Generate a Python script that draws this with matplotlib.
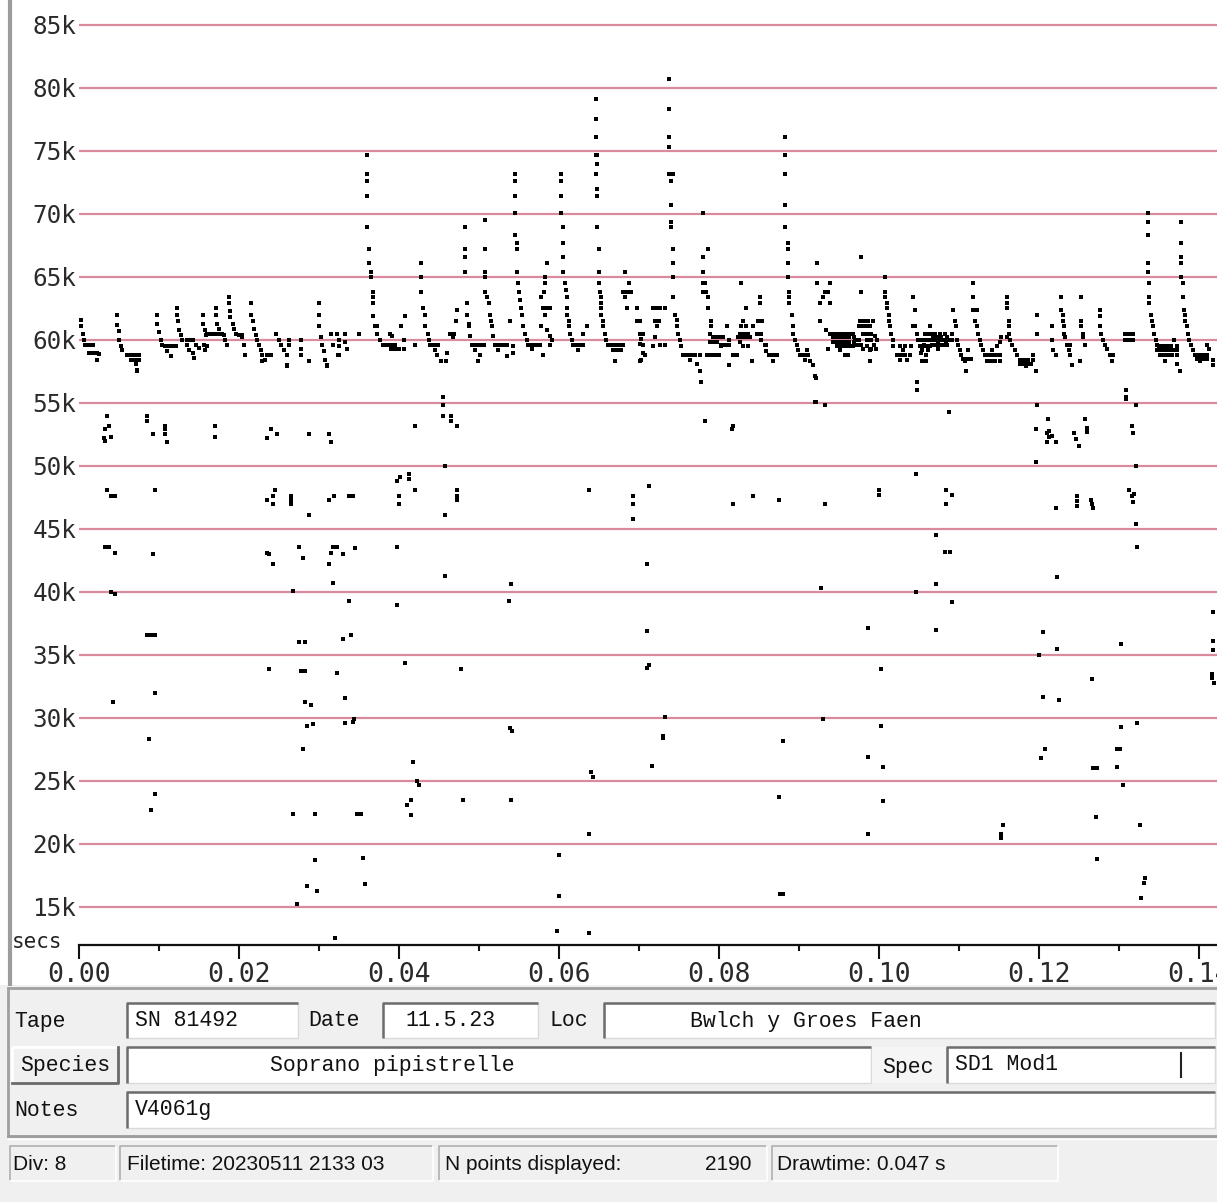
import numpy as np
import matplotlib
matplotlib.use('Agg')
import matplotlib.pyplot as plt
from matplotlib.patches import Rectangle

# call points: (time ms, frequency kHz)
band_pts = [
    (0.2, 61.6), (0.3, 61.1), (0.5, 60.5), (0.6, 60.0), (0.8, 59.6), (1.3, 59.6), (1.8, 59.6), (1.3, 59.0), (1.8, 59.0), (2.3, 59.0), (2.5, 58.9), (2.3, 58.4),
    (4.8, 62.0), (4.8, 61.2), (5.0, 60.7), (5.0, 60.0), (5.2, 59.5), (5.4, 59.2), (6.0, 58.8), (6.5, 58.8), (7.0, 58.8), (7.5, 58.8), (6.5, 58.4), (7.0, 58.4), (7.5, 58.4), (7.1, 58.1), (7.3, 57.5),
    (9.7, 62.0), (9.8, 61.3), (10.0, 60.6), (10.2, 60.0), (10.4, 59.6), (10.8, 59.5), (11.3, 59.5), (11.8, 59.5), (12.1, 59.5), (11.0, 59.1), (11.5, 58.7),
    (12.3, 62.5), (12.3, 62.0), (12.4, 61.5), (12.5, 60.8), (12.7, 60.4), (12.9, 60.0), (13.5, 60.0), (14.0, 60.0), (14.3, 60.0), (13.5, 59.6), (13.8, 59.2), (14.2, 59.0), (14.4, 58.6), (14.6, 59.6), (15.0, 59.4), (15.6, 59.6), (16.0, 59.5), (15.8, 59.2),
    (15.5, 62.0), (15.5, 61.3), (15.8, 60.8), (15.9, 60.4), (16.0, 60.5), (16.5, 60.5), (17.0, 60.5), (17.5, 60.5), (17.9, 60.5),
    (17.1, 62.5), (17.1, 62.0), (17.3, 61.3), (17.5, 60.9), (18.1, 60.4), (18.3, 60.0), (18.5, 59.6),
    (18.7, 63.4), (18.7, 62.9), (18.9, 62.3), (18.9, 61.8), (19.2, 61.3), (19.4, 60.9), (19.6, 60.5), (20.0, 60.4), (20.4, 60.4), (20.4, 60.2), (20.6, 59.6), (20.8, 58.8),
    (21.5, 62.9), (21.5, 62.0), (21.7, 61.5), (21.9, 60.9), (22.1, 60.4), (22.3, 60.0), (22.5, 59.6), (22.7, 59.2), (22.9, 58.8), (23.3, 58.4), (22.9, 58.3), (23.5, 58.8), (24.0, 58.8),
    (24.6, 60.5), (25.0, 60.0), (25.2, 59.6), (25.6, 59.2), (26.0, 58.8), (26.0, 57.9), (26.3, 60.0), (26.3, 59.6),
    (27.7, 60.0), (27.7, 59.3), (27.7, 58.8), (28.7, 58.3),
    (30.0, 62.9), (30.0, 62.0), (30.0, 61.1), (30.2, 60.2), (30.4, 59.6), (30.6, 59.1), (30.8, 58.4), (31.0, 57.9),
    (31.5, 60.5), (31.7, 59.6), (32.3, 60.5), (32.5, 60.0), (32.5, 59.5), (32.5, 58.8), (33.3, 60.5), (33.3, 59.8), (33.5, 59.3), (35.0, 60.5),
    (36.0, 74.7), (36.0, 73.2), (36.0, 72.6), (36.0, 71.4), (36.0, 69.0), (36.3, 67.2), (36.3, 66.1), (36.5, 65.4), (36.5, 65.0), (36.7, 63.8), (36.7, 63.4), (36.8, 62.9), (36.8, 61.9), (37.0, 61.1), (37.3, 61.1), (37.2, 60.5), (37.6, 60.0),
    (38.0, 59.6), (38.5, 59.6), (39.0, 59.6), (39.5, 59.6), (39.0, 59.3), (39.5, 59.3), (40.0, 59.3), (38.9, 60.5), (39.1, 60.3), (40.3, 61.1), (40.6, 60.0), (40.6, 59.3), (40.8, 61.9), (42.0, 59.6),
    (42.8, 66.1), (42.8, 65.0), (42.8, 63.8), (43.0, 62.5), (43.2, 62.0), (43.3, 61.1), (43.6, 60.5), (43.7, 60.0), (43.9, 59.6), (44.4, 59.6), (44.9, 59.6), (44.5, 59.2), (44.7, 58.8), (45.3, 58.3), (45.9, 58.3), (46.0, 59.0),
    (46.4, 60.5), (46.9, 60.5), (46.7, 60.2), (47.1, 61.5), (47.2, 62.4),
    (48.25, 69.0), (48.25, 67.2), (48.25, 66.6), (48.25, 65.4), (48.5, 62.9), (48.5, 62.0), (48.7, 61.3), (48.8, 61.1), (48.9, 60.3), (49.1, 59.6), (49.6, 59.6), (50.1, 59.6), (50.6, 59.6), (49.5, 59.2), (50.1, 58.8), (49.9, 58.3),
    (50.75, 69.5), (50.75, 67.2), (50.75, 65.4), (50.75, 65.0), (50.75, 63.8), (51.0, 63.4), (51.2, 62.9), (51.4, 62.0), (51.5, 61.5), (51.6, 61.1), (51.7, 60.3), (52.0, 59.6), (52.5, 59.6), (53.0, 59.6), (53.5, 59.6), (52.4, 59.2), (53.5, 58.7), (54.3, 59.5), (54.3, 59.0), (53.9, 61.5),
    (54.5, 73.2), (54.5, 72.6), (54.5, 71.4), (54.5, 70.1), (54.5, 68.3), (54.7, 67.7), (54.7, 67.2), (54.8, 65.4), (54.9, 64.5), (55.0, 63.8), (55.1, 63.2), (55.3, 62.5), (55.4, 62.0), (55.5, 61.1), (55.75, 60.5), (56.0, 60.0), (56.1, 59.6), (56.6, 59.6), (57.1, 59.6), (57.6, 59.6), (56.6, 59.3), (58.0, 58.8),
    (58.5, 66.1), (58.3, 65.0), (58.2, 64.5), (58.1, 63.8), (57.8, 63.4), (58.0, 62.5), (58.5, 62.5), (58.9, 62.5), (58.3, 62.0), (57.8, 61.1), (58.5, 60.8), (58.9, 60.3), (59.1, 60.0), (58.9, 59.6),
    (60.25, 73.2), (60.25, 72.6), (60.25, 71.4), (60.25, 70.1), (60.5, 69.0), (60.5, 67.7), (60.5, 66.6), (60.5, 65.4), (60.75, 64.5), (60.85, 64.0), (61.0, 63.4), (61.0, 62.5), (61.0, 62.0), (61.2, 61.5), (61.3, 61.1), (61.4, 60.5), (61.6, 60.0),
    (61.8, 59.6), (62.3, 59.6), (62.8, 59.6), (63.0, 59.6), (62.4, 59.2), (63.5, 61.1), (63.05, 60.5),
    (64.6, 79.1), (64.6, 77.5), (64.6, 76.1), (64.6, 74.7), (64.8, 74.7), (64.8, 74.0), (64.6, 73.2), (64.8, 72.0), (64.8, 71.4), (64.8, 69.0), (65.0, 67.2), (65.0, 65.4), (65.0, 64.5), (65.1, 63.8), (65.2, 63.4), (65.2, 62.9), (65.3, 62.5), (65.3, 62.0), (65.5, 61.5), (65.5, 61.1), (65.75, 60.5), (65.9, 60.0),
    (66.1, 59.6), (66.6, 59.6), (67.1, 59.6), (67.6, 59.6), (68.0, 59.6), (66.8, 59.2), (67.3, 59.2), (67.8, 59.2), (67.0, 58.3),
    (68.25, 65.4), (68.7, 64.5), (68.0, 63.8), (68.5, 63.8), (69.0, 63.8), (68.25, 63.4), (68.5, 62.5), (69.7, 62.5), (69.7, 61.5), (70.1, 61.5), (70.5, 60.5), (70.3, 60.1), (70.5, 59.6), (70.75, 58.8), (70.1, 58.3),
    (70.1, 60.5), (70.1, 59.7), (71.8, 62.5), (72.2, 62.5), (72.6, 62.5), (72.0, 61.5), (72.5, 61.5), (72.2, 61.1), (72.0, 60.2), (71.8, 59.5), (72.6, 59.6), (73.2, 59.6), (73.2, 62.5), (70.5, 59.0), (70.3, 58.4),
    (73.8, 80.7), (73.8, 78.3), (73.8, 76.1), (73.8, 75.3), (73.8, 73.2), (74.2, 73.2), (74.0, 72.6), (74.0, 70.7), (74.0, 69.4), (74.0, 69.0), (74.3, 67.2), (74.3, 66.1), (74.3, 65.0), (74.3, 63.4), (74.5, 62.0), (74.7, 61.6), (74.8, 61.1), (74.9, 60.5), (75.1, 60.0), (75.3, 59.5),
    (75.5, 58.8), (76.0, 58.8), (76.5, 58.8), (77.0, 58.8), (77.6, 58.8), (76.4, 58.4), (77.2, 58.1), (77.6, 57.5), (77.8, 56.7),
    (78.0, 70.1), (78.6, 67.2), (78.0, 66.6), (78.0, 65.4), (78.0, 64.5), (78.2, 64.5), (78.0, 63.8), (78.4, 63.8), (78.6, 63.4), (78.6, 62.5), (79.0, 61.5), (79.0, 61.1), (78.9, 60.5), (79.2, 60.2), (79.7, 60.2), (80.2, 60.2), (80.5, 60.2),
    (78.9, 59.8), (79.4, 59.8), (79.8, 59.8), (78.5, 58.8), (79.0, 58.8), (79.5, 58.8), (80.0, 58.8), (80.3, 59.5), (80.2, 59.6), (80.7, 59.6), (81.3, 59.6), (81.0, 61.1), (81.2, 60.0), (81.3, 58.0), (81.8, 58.8),
    (82.8, 64.5), (83.4, 62.5), (83.0, 61.5), (82.8, 61.1), (83.4, 61.1), (82.6, 60.5), (83.1, 60.5), (83.6, 60.5), (82.4, 60.2), (82.9, 60.2), (83.4, 60.2), (83.9, 60.2), (82.6, 59.8), (83.0, 59.5), (83.6, 59.5), (82.2, 58.8), (84.1, 58.3), (84.3, 61.1),
    (85.1, 63.4), (85.1, 62.9), (84.9, 61.5), (85.4, 61.5), (84.7, 60.5), (85.3, 60.5), (85.3, 60.0), (85.7, 59.6), (85.9, 59.6), (85.9, 59.1), (86.2, 58.8), (86.7, 58.8), (87.2, 58.8), (86.8, 58.3),
    (88.3, 76.1), (88.3, 74.7), (88.3, 73.2), (88.3, 70.7), (88.3, 69.0), (88.6, 67.7), (88.6, 67.2), (88.6, 66.1), (88.6, 65.0), (88.8, 63.8), (88.8, 63.4), (88.8, 62.9), (89.1, 62.0), (89.2, 61.1), (89.3, 60.5), (89.5, 60.0), (89.7, 59.6), (89.9, 59.2),
    (90.1, 58.8), (90.6, 58.8), (91.1, 58.8), (90.75, 58.4), (91.4, 58.3), (91.8, 58.0), (92.1, 57.0), (90.95, 59.2),
    (92.3, 66.1), (92.3, 64.5), (92.6, 62.9), (93.0, 63.4), (93.25, 63.8), (93.6, 63.8), (93.9, 64.5), (93.9, 62.9), (92.6, 61.5), (93.4, 60.8), (93.65, 59.3), (92.0, 57.1), (92.0, 55.1),
    (93.9, 60.5), (94.4, 60.5), (94.9, 60.5), (95.4, 60.5), (95.9, 60.5), (96.4, 60.5), (96.8, 60.5), (94.3, 60.2), (94.8, 60.2), (95.3, 60.2), (95.8, 60.2), (96.3, 60.2), (96.9, 60.2),
    (94.3, 59.8), (94.8, 59.8), (95.3, 59.8), (95.8, 59.8), (96.3, 59.8), (96.9, 59.8), (94.7, 59.5), (95.2, 59.5), (95.7, 59.5), (96.2, 59.5), (96.8, 59.5), (95.1, 59.2), (95.7, 58.8), (96.1, 58.8),
    (97.8, 66.6), (97.8, 63.8), (97.5, 61.1), (98.0, 61.1), (98.5, 61.1), (98.9, 61.1), (97.6, 61.5), (98.1, 61.5), (98.6, 61.5), (99.2, 61.5), (98.0, 60.5), (98.5, 60.5), (99.0, 60.5), (98.5, 60.0), (99.0, 60.0), (99.7, 60.0),
    (98.5, 59.5), (98.9, 59.2), (98.9, 58.3), (97.0, 60.0), (97.5, 60.0), (97.3, 59.6), (97.8, 59.6), (99.4, 59.6), (99.5, 60.3), (99.0, 59.3), (99.6, 59.3), (98.0, 59.3),
    (100.8, 65.0), (100.8, 63.8), (100.8, 63.4), (101.0, 62.9), (101.0, 62.5), (101.2, 62.0), (101.3, 61.5), (101.4, 61.1), (101.5, 60.5), (101.7, 60.0), (101.8, 59.5),
    (102.2, 58.8), (102.7, 58.8), (103.2, 58.8), (103.9, 58.8), (102.6, 58.4), (103.5, 58.4), (103.0, 59.2), (102.6, 59.5), (103.3, 59.5), (104.0, 59.5),
    (104.3, 63.4), (104.5, 62.4), (104.3, 61.1), (104.5, 61.1), (104.7, 60.5), (104.9, 60.0), (105.1, 59.5), (105.6, 59.5), (106.1, 59.5), (106.4, 59.5), (105.4, 59.2), (105.3, 59.0), (105.4, 58.3), (104.8, 56.7), (104.8, 56.0),
    (105.7, 60.5), (106.2, 60.5), (106.6, 60.5), (107.0, 60.5), (107.6, 60.5), (108.2, 60.5), (109.1, 60.5), (106.8, 60.2), (107.3, 60.2), (107.8, 60.2), (108.5, 60.2), (107.4, 59.7), (107.4, 59.3), (108.4, 59.8),
    (105.1, 60.0), (105.6, 60.0), (106.1, 60.0), (106.6, 60.0), (107.1, 60.0), (107.6, 60.0), (108.1, 60.0), (108.6, 60.0), (109.1, 60.0),
    (105.6, 59.6), (106.6, 59.6), (107.1, 59.6), (107.6, 59.6), (108.1, 59.6), (108.5, 59.6), (106.1, 59.2), (105.9, 58.8), (105.9, 58.3), (106.4, 61.1),
    (109.3, 62.4), (109.5, 61.5), (109.6, 61.1), (109.7, 60.0), (109.9, 59.6), (110.1, 59.2), (110.3, 58.8), (110.5, 58.5), (111.0, 58.5), (111.5, 58.5), (110.7, 58.3), (110.9, 57.5), (111.1, 59.2),
    (111.8, 64.5), (111.8, 63.4), (111.8, 62.4), (112.2, 62.4), (112.0, 61.5), (112.2, 61.1), (112.4, 60.5), (112.6, 60.0), (112.8, 59.6), (113.0, 59.2),
    (113.2, 58.8), (113.7, 58.8), (114.2, 58.8), (114.7, 58.8), (115.1, 58.8), (113.5, 58.3), (114.0, 58.3), (114.5, 58.3), (115.1, 58.3), (114.1, 59.2), (114.7, 59.5), (115.1, 59.8), (115.3, 60.2),
    (116.0, 63.4), (116.0, 62.9), (116.0, 62.5), (116.2, 61.5), (116.3, 61.1), (116.2, 60.5), (116.0, 60.2), (116.4, 60.0), (116.6, 59.6), (117.0, 59.2), (117.2, 58.8),
    (117.6, 58.4), (118.1, 58.4), (118.6, 58.4), (119.2, 58.4), (117.6, 58.1), (118.1, 58.1), (118.6, 58.1), (119.0, 58.1), (118.4, 57.9), (119.2, 58.8), (119.6, 57.5), (119.7, 62.0), (119.7, 60.5),
    (121.6, 61.1), (121.6, 60.0), (121.8, 59.2), (122.1, 58.8),
    (122.8, 63.4), (122.8, 62.4), (122.95, 62.0), (123.0, 61.5), (123.1, 61.1), (123.1, 60.5), (123.3, 60.2), (123.5, 59.6), (123.9, 59.6), (123.7, 59.2), (123.9, 58.8), (124.1, 58.0), (125.1, 58.3),
    (125.3, 63.4), (125.3, 61.5), (125.3, 61.1), (125.45, 60.5), (125.5, 60.2), (125.75, 59.6),
    (127.6, 62.4), (127.6, 61.9), (127.6, 61.1), (127.8, 60.5), (128.0, 60.0), (128.25, 59.6), (128.5, 59.3), (128.9, 58.8), (129.1, 58.3), (129.3, 58.8),
    (130.8, 60.5), (131.3, 60.5), (131.7, 60.5), (130.8, 60.0), (131.3, 60.0), (131.7, 60.0), (130.9, 56.0), (130.9, 55.5),
    (133.6, 70.1), (133.6, 69.4), (133.6, 68.3), (133.6, 66.1), (133.6, 65.4), (133.8, 64.5), (133.8, 63.4), (133.8, 62.9), (134.0, 62.0), (134.1, 61.5), (134.2, 61.1), (134.4, 60.5), (134.6, 60.0), (134.8, 59.6),
    (135.0, 59.5), (135.5, 59.5), (136.0, 59.5), (136.5, 59.5), (137.2, 59.5), (134.8, 59.2), (135.3, 59.2), (135.8, 59.2), (136.3, 59.2), (136.8, 59.2), (137.2, 59.2),
    (135.1, 58.8), (135.6, 58.8), (136.1, 58.8), (136.6, 58.8), (137.2, 58.8), (135.8, 58.3), (137.2, 58.1), (137.6, 57.5), (136.9, 60.0),
    (137.8, 69.4), (137.8, 67.7), (137.8, 66.6), (137.8, 66.1), (137.8, 65.0), (138.0, 64.5), (138.0, 63.4), (138.1, 62.4), (138.25, 62.0), (138.3, 61.5), (138.45, 61.1), (138.6, 60.5), (138.8, 60.0), (139.0, 59.6), (139.2, 59.2),
    (139.5, 58.8), (140.0, 58.8), (140.5, 58.8), (140.95, 58.8), (139.7, 58.5), (140.2, 58.5), (140.7, 58.5), (141.0, 58.5), (140.1, 58.3), (140.95, 59.6), (141.2, 59.3), (141.8, 58.4), (141.8, 58.0),
    (7.2, 57.6), (26.0, 58.0), (31.0, 58.0), (32.4, 58.8),
]

# harmonics / noise points below the main band
stray_pts = [
    (3.5, 54.0), (3.75, 53.2), (3.25, 52.9), (3.1, 52.2), (3.3, 52.0), (4.0, 52.3), (8.5, 54.0), (8.5, 53.6), (9.25, 52.5),
    (10.8, 53.2), (10.8, 52.9), (10.8, 52.5), (11.0, 51.9), (17.0, 53.2), (17.0, 52.3), (24.0, 52.9), (23.5, 52.2), (24.8, 52.5),
    (28.75, 52.5), (31.25, 52.5), (31.5, 51.9), (42.0, 53.2), (45.5, 55.5), (45.5, 54.8), (45.5, 54.0), (46.5, 54.0), (46.5, 53.6), (47.2, 53.2),
    (3.5, 48.1), (4.0, 47.6), (4.5, 47.6), (9.5, 48.1), (23.5, 47.3), (24.2, 47.0), (24.5, 48.1), (24.3, 47.6), (26.5, 47.6), (26.5, 47.3), (26.5, 47.0),
    (28.75, 46.1), (31.25, 47.3), (31.9, 47.6), (33.8, 47.6), (34.2, 47.6), (39.8, 48.8), (40.1, 49.1), (41.25, 49.4), (41.25, 49.0),
    (40.0, 47.6), (40.0, 47.0), (42.0, 48.1), (45.75, 50.0), (45.75, 46.1), (47.3, 48.1), (47.3, 47.6),
    (3.3, 43.6), (3.7, 43.6), (4.5, 43.1), (9.25, 43.0), (23.5, 43.1), (23.75, 43.0), (24.3, 42.2), (27.5, 43.6), (28.0, 42.7),
    (31.7, 43.6), (32.3, 43.6), (31.5, 43.1), (31.25, 42.2), (33.0, 43.0), (34.5, 43.5), (31.75, 40.7), (39.8, 43.6), (45.75, 41.3),
    (4.0, 40.0), (4.5, 39.8), (26.75, 40.1), (33.75, 39.3), (39.8, 39.0),
    (8.5, 36.6), (9.0, 36.6), (9.5, 36.6), (27.5, 36.0), (28.3, 36.0), (33.0, 36.3), (34.0, 36.6), (40.75, 34.4), (23.75, 33.9),
    (27.7, 33.7), (28.3, 33.7), (32.3, 33.6), (9.5, 32.0), (4.2, 31.3), (28.25, 31.3), (29.0, 31.0), (33.25, 31.6),
    (28.5, 29.4), (29.3, 29.5), (33.25, 29.6), (34.25, 29.7), (34.4, 29.9), (8.75, 28.3), (28.0, 27.5), (41.8, 26.5),
    (42.3, 25.0), (42.5, 24.7), (41.0, 23.1), (41.5, 23.5), (41.5, 22.3), (9.5, 24.0), (9.0, 22.7), (26.75, 22.4), (29.5, 22.4),
    (34.8, 22.4), (35.3, 22.4), (29.5, 18.7), (35.5, 18.9), (28.5, 16.7), (29.8, 16.3), (35.75, 16.8), (27.3, 15.2), (32.0, 12.5),
    (47.3, 53.2), (78.25, 53.6), (81.7, 53.2), (81.6, 52.9), (92.1, 55.1), (93.3, 54.8), (47.2, 48.1), (47.2, 47.3),
    (63.8, 48.1), (69.3, 47.6), (69.3, 47.0), (69.3, 45.8), (71.3, 48.4), (81.8, 47.0), (84.3, 47.6), (87.5, 47.3), (93.3, 47.0),
    (71.0, 42.2), (54.0, 40.6), (53.8, 39.3), (92.8, 40.3), (71.0, 36.9), (71.0, 34.0), (71.2, 34.2), (47.8, 33.9),
    (53.9, 29.2), (54.1, 29.0), (73.0, 28.4), (73.0, 28.6), (73.3, 30.1), (88.0, 28.2), (93.0, 29.9), (71.6, 26.2), (64.0, 25.7), (64.2, 25.3),
    (48.0, 23.5), (54.0, 23.5), (87.5, 23.7), (63.8, 20.8), (60.0, 19.1), (60.0, 15.9), (87.6, 16.0), (88.0, 16.0), (59.8, 13.1), (63.8, 12.9),
    (108.8, 54.3), (119.8, 54.8), (130.9, 55.3), (132.1, 54.8), (121.1, 53.7), (119.6, 52.9), (121.3, 52.8), (121.3, 52.3),
    (121.0, 52.6), (121.6, 52.4), (122.1, 51.9), (121.0, 51.9), (125.8, 53.7), (126.0, 53.0), (126.0, 52.7), (124.4, 52.6), (124.6, 52.1), (125.0, 51.6),
    (131.6, 53.2), (131.8, 52.6), (119.6, 50.3), (132.1, 50.0), (104.6, 49.4), (100.0, 48.1), (100.0, 47.7), (93.25, 47.0),
    (108.4, 48.1), (109.1, 47.7), (108.4, 47.0), (122.1, 46.7), (124.8, 47.6), (124.8, 47.2), (124.8, 46.8), (126.5, 47.3), (126.6, 47.0), (126.7, 46.7),
    (131.2, 48.1), (131.6, 47.6), (131.8, 47.1), (131.9, 47.8), (132.1, 45.4), (107.1, 44.5), (108.3, 43.2), (108.9, 43.2), (132.3, 43.6),
    (122.3, 41.2), (92.8, 40.3), (104.6, 40.0), (107.1, 40.6), (109.1, 39.2), (141.8, 38.4), (98.6, 37.1), (107.1, 37.0), (120.5, 36.8),
    (122.3, 35.5), (120.0, 35.0), (130.3, 35.9), (141.7, 36.1), (141.8, 35.4), (100.25, 33.9), (126.6, 33.1), (141.6, 33.5), (141.6, 33.2), (141.9, 32.8),
    (120.5, 31.7), (122.5, 31.4), (93.0, 29.9), (100.25, 29.4), (130.3, 29.3), (132.3, 29.6), (120.8, 27.5), (120.3, 26.8), (129.7, 27.5), (130.1, 27.5),
    (98.6, 26.9), (100.5, 26.1), (126.8, 26.0), (127.2, 26.0), (129.8, 26.1), (130.5, 24.7), (100.5, 23.4), (98.6, 20.8), (115.5, 21.5),
    (115.3, 20.8), (115.3, 20.5), (127.1, 22.1), (132.6, 21.5), (127.3, 18.8), (133.3, 17.3), (133.1, 16.9), (132.8, 15.7),
    (92.0, 57.1), (93.25, 54.8),
]

freq_ticks = np.arange(15, 90, 5)
time_major = np.arange(0.0, 0.15, 0.02)
time_minor = np.arange(0.01, 0.15, 0.02)

tape = 'SN 81492'
date = '11.5.23'
loc = 'Bwlch y Groes Faen'
species = 'Soprano pipistrelle'
spec = 'SD1 Mod1'
notes = 'V4061g'
div = 'Div: 8'
filetime = 'Filetime: 20230511 2133 03'
n_points = '2190'
drawtime = 'Drawtime: 0.047 s'

W, H = 1217, 1202
fig = plt.figure(figsize=(W / 100, H / 100), dpi=100, facecolor='white')

# window furniture in pixel coordinates
ui = fig.add_axes([0, 0, 1, 1], zorder=0)
ui.set_xlim(0, W)
ui.set_ylim(H, 0)
ui.axis('off')

mono = 'DejaVu Sans Mono'
courier = 'Liberation Mono'
sans = 'Liberation Sans'

ui.plot([9.5, 9.5], [0, 986], color='#9c9c9c', lw=3, solid_capstyle='butt')
ui.add_patch(Rectangle((0, 985), W, H - 985, facecolor='#f0f0f0', edgecolor='none'))
ui.plot([8, W], [988, 988], color='#a0a0a0', lw=2)
ui.plot([8, 8], [988, 1136], color='#a0a0a0', lw=2)
ui.plot([8, W], [1136, 1136], color='#9a9a9a', lw=2)
ui.plot([8, W], [1139, 1139], color='white', lw=1)
ui.text(12, 942, 'secs', family=mono, fontsize=15, va='center', ha='left', color='#222222')


def field(x0, x1, y0, y1):
    ui.add_patch(Rectangle((x0, y0), x1 - x0, y1 - y0, facecolor='white', edgecolor='#dadada', lw=1))
    ui.plot([x0, x0, x1], [y1, y0, y0], color='#6c6c6c', lw=1.8, solid_capstyle='butt')


def label(x, y, s, **kw):
    ui.text(x, y, s, family=courier, fontsize=15.5, va='center', color='#111111', **kw)


# row 1
label(14, 1021, 'Tape')
field(127, 298, 1003, 1038)
label(135, 1021, tape)
label(308, 1021, 'Date')
field(383, 538, 1003, 1038)
label(405, 1021, date)
label(549, 1021, 'Loc')
field(604, 1215, 1003, 1038)
label(806, 1021, loc, ha='center')

# row 2
ui.add_patch(Rectangle((12, 1047), 106, 36, facecolor='#f0f0f0', edgecolor='none'))
ui.plot([12, 12, 118], [1083, 1047, 1047], color='white', lw=2)
ui.plot([12, 118, 118], [1083, 1083, 1047], color='#6a6a6a', lw=2)
label(65, 1065, 'Species', ha='center')
field(127, 871, 1047, 1083)
label(392, 1065, species, ha='center')
ui.add_patch(Rectangle((872, 1047), 75, 36, facecolor='#f5f5f5', edgecolor='none'))
label(882, 1067, 'Spec')
field(947, 1215, 1047, 1083)
label(955, 1065, spec)
ui.plot([1181, 1181], [1053, 1077], color='#222222', lw=1.5)

# row 3
label(14, 1111, 'Notes')
field(127, 1215, 1092, 1128)
label(135, 1110, notes)

# status bar
for x0, x1 in [(10, 116), (120, 433), (439, 767), (772, 1058)]:
    ui.plot([x0, x0, x1], [1181, 1146, 1146], color='#b0b0b0', lw=1.2)
    ui.plot([x0, x1, x1], [1181, 1181, 1146], color='white', lw=1.2)
ui.text(13, 1164, div, family=sans, fontsize=15, va='center', color='#111111')
ui.text(127, 1164, filetime, family=sans, fontsize=15, va='center', color='#111111')
ui.text(445, 1164, 'N points displayed:', family=sans, fontsize=15, va='center', color='#111111')
ui.text(752, 1164, n_points, family=sans, fontsize=15, va='center', ha='right', color='#111111')
ui.text(777, 1164, drawtime, family=sans, fontsize=15, va='center', color='#111111')

# the call display
ax = fig.add_axes([79 / W, (H - 945) / H, (W - 79) / W, 945 / H], zorder=1)
ax.set_facecolor('white')

band = np.array(band_pts)
stray = np.array(stray_pts)
for pts in (band, stray):
    ax.scatter(pts[:, 0] / 1000, pts[:, 1] * 1000, marker='s', s=9.5, c='black', linewidths=0, zorder=3)

ax.set_xlim(0, (W - 79) / 8000)
ax.set_ylim(11980, 86980)

for f in freq_ticks:
    ax.axhline(f * 1000, color='#d98b9d', lw=1.6, zorder=1)

ax.set_yticks(freq_ticks * 1000)
ax.set_yticklabels([f'{f}k' for f in freq_ticks], family=mono, fontsize=17.5, color='#2a2a2a')
ax.tick_params(axis='y', length=0, pad=2)

ax.set_xticks(time_major)
ax.set_xticks(time_minor, minor=True)
ax.set_xticklabels([f'{t:.2f}' for t in time_major], family=mono, fontsize=19, color='#2a2a2a')
ax.tick_params(axis='x', which='major', direction='out', length=10, width=1.5, pad=2, color='#111111')
ax.tick_params(axis='x', which='minor', direction='out', length=4.5, width=1.5, color='#111111')

for side in ('top', 'right', 'left'):
    ax.spines[side].set_visible(False)
ax.spines['bottom'].set_linewidth(1.6)
ax.spines['bottom'].set_color('#111111')

fig.savefig('out.png', dpi=100, facecolor='white')
